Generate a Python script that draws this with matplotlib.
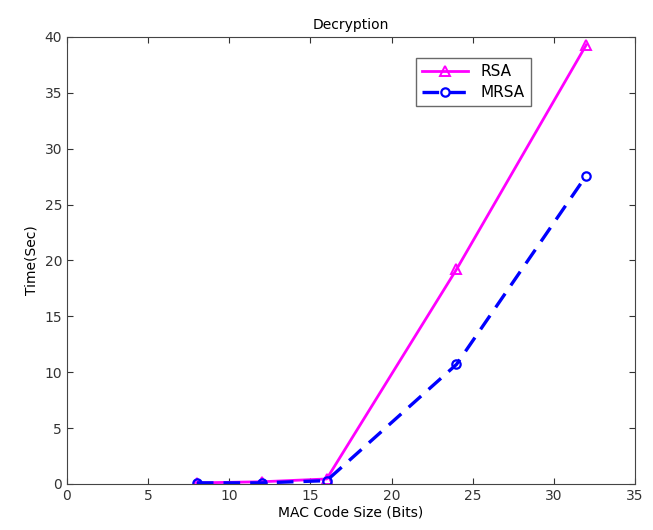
import matplotlib
matplotlib.use('Agg')
import matplotlib.pyplot as plt

mac_size = [8, 12, 16, 24, 32]
rsa_time = [0.1, 0.2, 0.45, 19.2, 39.3]
mrsa_time = [0.1, 0.1, 0.3, 10.7, 27.6]

fig = plt.figure(figsize=(6.53, 5.30), dpi=100)
ax = fig.add_axes([0.1026, 0.0868, 0.8698, 0.8434])

ax.plot(mac_size, rsa_time, color='#ff00ff', linestyle='-', linewidth=2,
        marker='^', markersize=7, markerfacecolor='none', markeredgewidth=1.4,
        label='RSA')
ax.plot(mac_size, mrsa_time, color='#0000ff', linestyle=(0, (5, 3)), linewidth=2.4,
        marker='o', markersize=6, markerfacecolor='none', markeredgewidth=1.6,
        label='MRSA')

ax.set_xlim(0, 35)
ax.set_ylim(0, 40)
ax.set_xticks(range(0, 36, 5))
ax.set_yticks(range(0, 41, 5))
ax.tick_params(direction='in', top=True, right=True, labelsize=10, colors='#333333', length=4)
for s in ax.spines.values():
    s.set_color('#444444')

ax.set_title('Decryption', fontsize=10)
ax.set_xlabel('MAC Code Size (Bits)', fontsize=10, labelpad=2)
ax.set_ylabel('Time(Sec)', fontsize=10)

leg = ax.legend(loc='upper right', bbox_to_anchor=(0.83, 0.97), fontsize=11,
                fancybox=False, edgecolor='#444444', handlelength=3, borderpad=0.4,
                labelspacing=0.4)
leg.get_frame().set_linewidth(1)

fig.savefig('out.png', dpi=100)
